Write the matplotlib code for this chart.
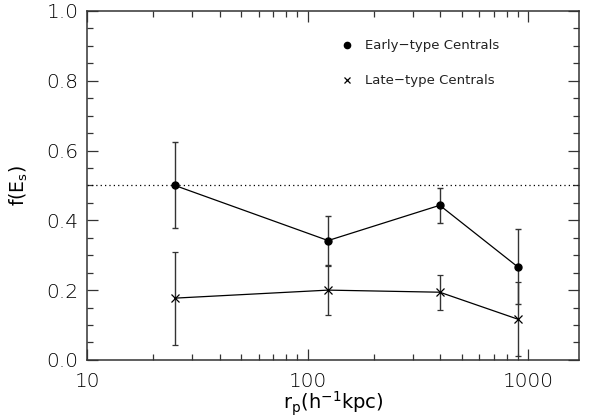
import numpy as np
import matplotlib.pyplot as plt
from matplotlib.ticker import MultipleLocator, LogLocator, FixedLocator, NullFormatter

rp = [25, 124, 398, 897]
early_f = [0.500, 0.342, 0.443, 0.267]
early_err = [0.123, 0.071, 0.051, 0.107]
late_f = [0.177, 0.200, 0.194, 0.117]
late_err = [0.133, 0.070, 0.050, 0.107]

plt.rcParams['font.family'] = ['DejaVu Sans']
plt.rcParams['font.weight'] = 'light'
plt.rcParams['mathtext.default'] = 'regular'
fig = plt.figure(figsize=(5.9, 4.19), dpi=100)
ax = fig.add_axes([0.1475, 0.141, 0.8335, 0.833])

ax.axhline(0.5, color="black", linestyle=(0, (1, 2.5)), linewidth=0.9)

ax.errorbar(rp, early_f, yerr=early_err, color="black", marker="o", markersize=5,
            linewidth=0.9, elinewidth=1.0, ecolor="#333333", capsize=2.5, capthick=1.0)
ax.errorbar(rp, late_f, yerr=late_err, color="black", marker="x", markersize=6,
            markeredgewidth=0.9, linewidth=0.9, elinewidth=1.0, ecolor="#333333",
            capsize=2.5, capthick=1.0)

ax.set_xscale("log")
ax.set_xlim(10, 1700)
ax.set_ylim(0, 1.0)
ax.xaxis.set_major_locator(FixedLocator([10, 100, 1000]))
ax.xaxis.set_major_formatter(plt.FuncFormatter(lambda v, p: "%d" % v))
ax.xaxis.set_minor_locator(LogLocator(base=10, subs=np.arange(2, 10)))
ax.xaxis.set_minor_formatter(NullFormatter())
ax.yaxis.set_major_locator(MultipleLocator(0.2))
ax.yaxis.set_minor_locator(MultipleLocator(0.05))
ax.yaxis.set_major_formatter(plt.FuncFormatter(lambda v, p: "%.1f" % v))

ax.tick_params(which="both", direction="in", top=True, right=True, labelsize=14.5,
               width=0.9, color="#333333")
ax.tick_params(which="major", length=8)
ax.tick_params(axis="x", which="major", pad=9)
ax.tick_params(axis="y", which="major", pad=6)
ax.tick_params(which="minor", length=4)
for s in ax.spines.values():
    s.set_linewidth(1.1)
    s.set_color("#333333")

ax.set_xlabel(r"r$_p$(h$^{-1}$kpc)", fontsize=14, labelpad=-1)
ax.set_ylabel(r"f(E$_s$)", fontsize=13.5, labelpad=12)

ax.plot([0.528], [0.901], "o", color="black", markersize=4.5, transform=ax.transAxes)
ax.plot([0.528], [0.802], "x", color="black", markersize=5, markeredgewidth=0.9,
        transform=ax.transAxes)
ax.text(0.565, 0.901, "Early\u2212type Centrals", fontsize=9.5, va="center", ha="left",
        fontweight="normal", color="#222222", transform=ax.transAxes)
ax.text(0.565, 0.802, "Late\u2212type Centrals", fontsize=9.5, va="center", ha="left",
        fontweight="normal", color="#222222", transform=ax.transAxes)

fig.savefig("out.png", dpi=100)
